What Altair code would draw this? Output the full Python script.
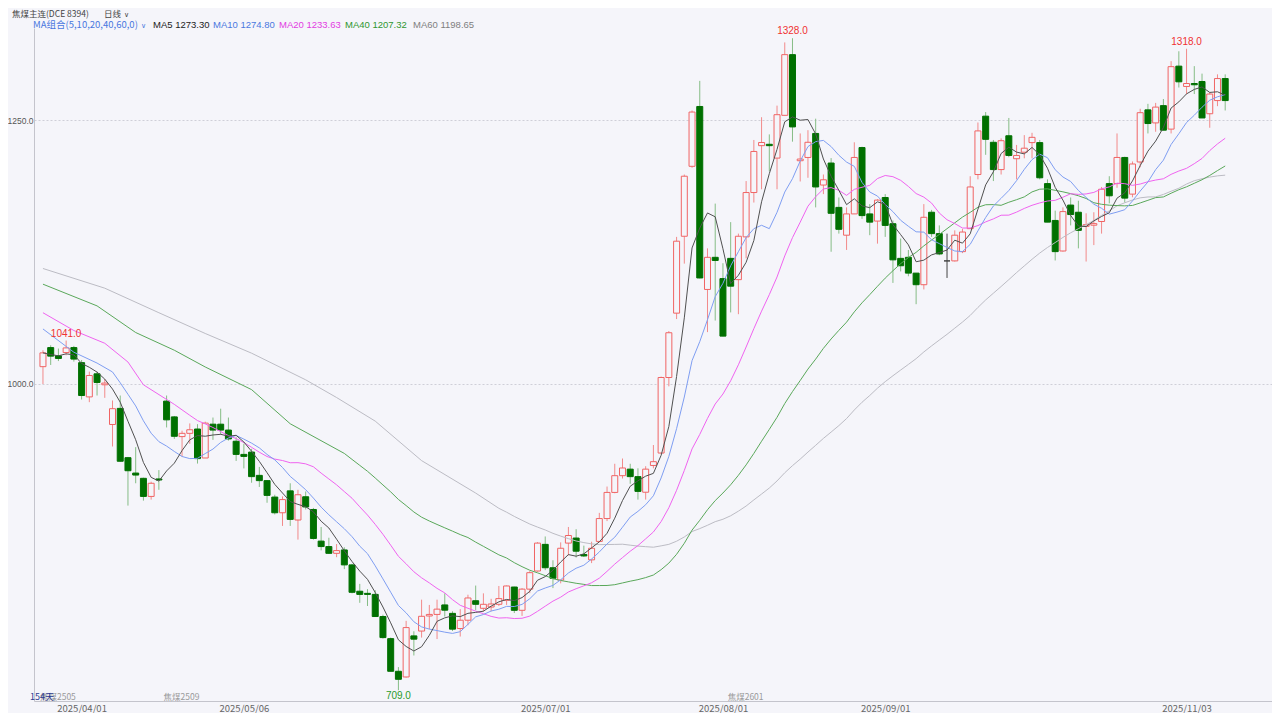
import altair as alt
import pandas as pd

# ---------------- data ----------------
opens = [1016.2, 1034.3, 1026.5, 1029.6, 1034.3, 1020.0, 987.5, 1009.4, 999.0, 961.3,
         976.6, 929.8, 915.2, 910.2, 893.0, 909.6, 983.5, 968.5, 949.8, 952.9,
         957.0, 929.5, 961.6, 961.6, 956.0, 945.4, 932.9, 935.1, 913.0, 908.0,
         892.4, 877.5, 898.3, 870.6, 892.7, 880.6, 850.6, 845.4, 839.0, 842.2,
         828.0, 803.0, 801.0, 800.0, 779.0, 758.0, 727.0, 721.6, 760.6, 765.2,
         779.5, 781.0, 790.0, 782.0, 767.6, 775.5, 794.0, 786.8, 788.0, 790.6,
         794.4, 807.0, 784.9, 805.0, 822.2, 847.5, 825.3, 813.6, 848.7, 853.5,
         837.9, 832.8, 850.3, 872.0, 896.8, 912.7, 918.9, 911.8, 897.0, 922.4,
         934.2, 1005.9, 1067.0, 1140.0, 1206.4, 1263.2, 1089.5, 1120.0, 1099.8, 1119.0,
         1098.8, 1139.4, 1181.5, 1226.0, 1227.3, 1214.2, 1254.8, 1312.4, 1211.7, 1214.8,
         1237.6, 1188.6, 1209.5, 1167.4, 1141.0, 1161.2, 1224.2, 1161.2, 1154.4, 1176.8,
         1151.9, 1119.0, 1120.0, 1105.0, 1094.0, 1162.8, 1142.5, 1116.6, 1116.6, 1125.4,
         1147.2, 1198.6, 1254.0, 1229.2, 1203.3, 1235.4, 1213.6, 1219.8, 1228.9, 1228.9,
         1190.0, 1155.0, 1126.0, 1169.6, 1162.8, 1149.4, 1150.5, 1154.0, 1190.0, 1190.0,
         1214.8, 1180.0, 1210.5, 1260.0, 1247.6, 1264.0, 1241.7, 1301.5, 1282.2, 1285.0,
         1286.9, 1256.3, 1268.8, 1289.7]

highs = [1031.8, 1036.5, 1033.4, 1041.0, 1035.9, 1022.5, 1011.5, 1011.5, 1004.4, 984.1,
         988.8, 930.5, 939.8, 910.8, 907.0, 918.0, 988.8, 969.4, 955.4, 962.3,
         961.6, 964.0, 967.9, 976.3, 967.9, 949.2, 943.0, 938.2, 921.0, 908.6,
         894.6, 893.0, 905.5, 899.3, 897.7, 882.1, 864.0, 853.8, 847.8, 844.7,
         829.0, 810.0, 805.0, 804.0, 780.7, 759.0, 731.0, 774.9, 765.0, 795.0,
         790.0, 795.0, 801.0, 784.0, 786.0, 799.7, 808.4, 801.0, 795.8, 808.0,
         808.4, 807.3, 806.0, 822.1, 849.6, 855.0, 832.4, 849.4, 864.0, 861.9,
         846.3, 850.0, 877.4, 902.4, 924.0, 929.0, 924.0, 919.7, 921.7, 941.8,
         1006.8, 1050.0, 1139.4, 1198.6, 1259.4, 1287.5, 1128.5, 1171.0, 1114.4, 1153.4,
         1142.5, 1192.4, 1231.4, 1253.0, 1236.7, 1264.0, 1324.0, 1328.0, 1237.6, 1240.7,
         1251.6, 1198.6, 1214.2, 1176.8, 1167.4, 1229.2, 1225.0, 1170.5, 1175.2, 1180.0,
         1155.0, 1137.8, 1127.0, 1105.0, 1170.5, 1165.0, 1150.3, 1142.5, 1145.6, 1147.0,
         1197.0, 1248.0, 1257.9, 1231.4, 1232.9, 1252.3, 1226.7, 1236.0, 1238.2, 1231.4,
         1194.0, 1164.3, 1167.4, 1176.8, 1173.7, 1161.8, 1162.8, 1186.8, 1197.0, 1237.6,
         1215.5, 1211.0, 1261.0, 1265.7, 1266.6, 1270.3, 1306.2, 1315.6, 1318.0, 1301.5,
         1294.4, 1276.6, 1293.7, 1293.7]

lows = [999.7, 1017.8, 1021.5, 1027.0, 1021.0, 985.0, 982.5, 988.8, 986.6, 940.4,
        926.0, 884.3, 905.5, 889.0, 890.0, 899.3, 958.5, 947.6, 930.8, 943.0,
        924.2, 929.5, 946.7, 951.7, 946.0, 926.7, 919.6, 906.0, 902.0, 887.0,
        875.9, 865.0, 865.0, 852.0, 880.6, 852.0, 841.8, 838.5, 835.3, 824.0,
        801.0, 792.0, 789.0, 779.0, 758.0, 727.0, 709.0, 721.0, 742.0, 759.0,
        767.0, 757.6, 779.0, 765.2, 760.0, 770.7, 785.0, 783.8, 783.9, 789.0,
        790.0, 782.3, 779.6, 801.2, 821.6, 823.0, 806.0, 810.5, 837.0, 835.0,
        835.5, 829.7, 849.4, 869.6, 896.0, 910.0, 905.0, 890.0, 890.0, 919.7,
        933.6, 997.5, 1061.4, 1114.0, 1205.0, 1100.0, 1049.0, 1060.0, 1045.0, 1067.7,
        1066.0, 1119.0, 1172.0, 1184.6, 1201.7, 1184.6, 1254.8, 1229.8, 1192.0, 1195.5,
        1167.4, 1180.0, 1125.3, 1142.5, 1127.0, 1161.2, 1156.5, 1141.0, 1133.0, 1139.4,
        1095.7, 1106.6, 1102.0, 1075.5, 1089.5, 1139.4, 1122.0, 1100.4, 1116.0, 1124.0,
        1147.2, 1194.0, 1217.3, 1192.4, 1198.6, 1215.0, 1194.0, 1214.0, 1214.0, 1194.0,
        1153.4, 1117.0, 1125.4, 1150.3, 1128.5, 1116.0, 1131.6, 1142.5, 1171.2, 1186.0,
        1172.0, 1177.0, 1205.5, 1237.6, 1239.2, 1240.7, 1237.6, 1281.2, 1275.0, 1275.0,
        1252.3, 1243.0, 1263.5, 1259.4]

closes = [1029.3, 1026.2, 1024.0, 1034.0, 1023.4, 988.8, 1007.8, 1001.2, 1000.6, 976.3,
          926.4, 917.4, 913.3, 893.0, 905.5, 908.6, 965.7, 950.1, 952.9, 956.3,
          928.9, 962.6, 956.0, 956.0, 947.6, 932.9, 931.0, 911.8, 908.0, 894.0,
          877.5, 890.0, 871.2, 894.6, 883.0, 853.1, 845.4, 839.0, 841.6, 828.0,
          802.0, 800.0, 800.0, 779.0, 759.0, 727.0, 719.4, 768.5, 757.5, 779.2,
          781.0, 786.0, 785.0, 767.0, 775.5, 796.6, 790.6, 790.6, 790.9, 796.0,
          808.0, 784.9, 805.0, 820.6, 848.7, 825.3, 815.3, 843.8, 855.9, 841.0,
          836.5, 843.8, 872.0, 896.8, 912.7, 920.0, 911.8, 897.8, 918.9, 926.0,
          1005.9, 1048.4, 1135.3, 1197.0, 1257.9, 1100.4, 1120.0, 1117.0, 1045.2, 1092.6,
          1140.0, 1181.5, 1220.5, 1229.0, 1226.0, 1255.4, 1312.4, 1243.8, 1213.3, 1229.2,
          1186.8, 1193.6, 1161.8, 1146.6, 1161.2, 1214.8, 1159.6, 1153.4, 1174.3, 1150.3,
          1117.6, 1112.0, 1105.0, 1094.0, 1158.0, 1142.5, 1123.2, 1116.6, 1141.0, 1144.0,
          1186.8, 1240.0, 1232.0, 1203.3, 1230.7, 1216.7, 1216.7, 1223.6, 1233.9, 1195.5,
          1153.4, 1125.4, 1163.4, 1160.6, 1145.6, 1151.0, 1152.0, 1184.6, 1178.4, 1214.8,
          1176.2, 1208.6, 1257.3, 1247.0, 1262.6, 1240.7, 1301.0, 1286.6, 1285.0, 1283.8,
          1252.3, 1275.0, 1289.7, 1268.8]

tick_idx = [5, 26, 65, 88, 109, 148]
tick_labels = ["2025/04/01", "2025/05/06", "2025/07/01", "2025/08/01", "2025/09/01", "2025/11/03"]
price_ticks = [1000, 1250]

hi_label_idx = [3, 97, 148]
lo_label_idx = [46]

contract_idx = [0, 16, 89]
contract_names = ["焦煤2505", "焦煤2509", "焦煤2601"]

ma_names = ["MA5", "MA10", "MA20", "MA40", "MA60"]
ma_periods = [5, 10, 20, 40, 60]
ma_last = ["1273.30", "1274.80", "1233.63", "1207.32", "1198.65"]

# moving-average values before a full window exists
ma10_early_idx = [0, 4, 7]
ma10_early_val = [1052.0, 1029.9, 1019.6]
ma20_early_idx = [0, 4, 8, 11, 13, 17]
ma20_early_val = [1067.4, 1050.5, 1038.4, 1020.6, 999.0, 980.4]
ma40_early_idx = [0, 7, 12, 17, 21, 27, 32]
ma40_early_val = [1094.5, 1073.9, 1048.6, 1031.8, 1015.9, 994.4, 962.0]
ma60_early_idx = [0, 8, 15, 21, 27, 34, 38, 43, 49, 56]
ma60_early_val = [1109.4, 1090.7, 1067.4, 1047.7, 1029.0, 1003.7, 986.9, 964.5, 927.0, 896.2]

# ---------------- tables ----------------
n = len(closes)
df = pd.DataFrame({"idx": list(range(n)), "open": opens, "high": highs, "low": lows, "close": closes})
df["dir"] = ["up" if c > o else ("down" if c < o else "flat") for o, c in zip(opens, closes)]

early = {
    "MA5": ([], []),
    "MA10": (ma10_early_idx, ma10_early_val),
    "MA20": (ma20_early_idx, ma20_early_val),
    "MA40": (ma40_early_idx, ma40_early_val),
    "MA60": (ma60_early_idx, ma60_early_val),
}
cs = pd.Series(closes)
rows = []
for name, period in zip(ma_names, ma_periods):
    ei, ev = early[name]
    for i, v in zip(ei, ev):
        rows.append({"idx": i, "val": v, "ma": name})
    if name == "MA5":
        roll = cs.rolling(period, min_periods=1).mean()
        start = 0
    else:
        roll = cs.rolling(period).mean()
        start = period - 1
    for i in range(start, n):
        rows.append({"idx": i, "val": float(roll[i]), "ma": name})
ma_df = pd.DataFrame(rows)

contract_df = pd.DataFrame({"idx": contract_idx, "name": contract_names})

# ---------------- style ----------------
BG = "#f5f5fa"
UP, UP_WICK = "#f06464", "#f28a8a"
DOWN, DOWN_WICK = "#007000", "#86bd86"
FLAT = "#444444"
ma_line_colors = ["#505050", "#7f9ef2", "#f064f0", "#5aa85a", "#bcbcc4"]
ma_text_colors = ["#222222", "#4a78e0", "#e23ce2", "#2f962f", "#808080"]
CJK = "Noto Sans CJK SC"
LAT = "Liberation Sans"

LEFT, TOP = 34, 28          # page position of the plot origin
W, H = 1238, 673

xs = alt.Scale(domain=[-0.513, 158.41], nice=False, zero=False)
ys = alt.Scale(domain=[698.8, 1337.7], nice=False, zero=False)

label_expr = " : ".join(f"datum.value == {i} ? '{l}'" for i, l in zip(tick_idx, tick_labels)) + " : ''"

x_axis = alt.Axis(values=tick_idx, labelExpr=label_expr, title=None, grid=False, ticks=False,
                  domainColor="#c4c4cc", labelColor="#666666", labelFont=CJK, labelFontSize=9.5,
                  labelPadding=2, labelFlush=False, labelOverlap=False)
y_axis = alt.Axis(values=price_ticks, format=".1f", title=None, ticks=False,
                  domainColor="#c4c4cc", labelColor="#555555", labelFont=LAT, labelFontSize=8.5,
                  labelPadding=1, grid=True, gridColor="#cfcfd8", gridDash=[2, 2], gridWidth=1)


def X(field="idx:Q"):
    return alt.X(field, scale=xs, axis=x_axis)


def Y(field):
    return alt.Y(field, scale=ys, axis=y_axis)


base = alt.Chart(df)

wicks = base.mark_rule(strokeWidth=1).encode(
    x=X(), y=Y("low:Q"), y2="high:Q",
    color=alt.Color("dir:N", scale=alt.Scale(domain=["up", "down", "flat"],
                                             range=[UP_WICK, DOWN_WICK, FLAT]), legend=None),
)

bodies = base.mark_bar(size=6, strokeWidth=1).encode(
    x=X(), y=Y("open:Q"), y2="close:Q",
    fill=alt.Fill("dir:N", scale=alt.Scale(domain=["up", "down", "flat"],
                                           range=[BG, DOWN, FLAT]), legend=None),
    stroke=alt.Stroke("dir:N", scale=alt.Scale(domain=["up", "down", "flat"],
                                               range=[UP, DOWN, FLAT]), legend=None),
)

ma_layers = []
for name, col in zip(ma_names[::-1], ma_line_colors[::-1]):
    ma_layers.append(
        alt.Chart(ma_df).transform_filter(alt.datum.ma == name)
        .mark_line(strokeWidth=1, color=col)
        .encode(x=X(), y=Y("val:Q"))
    )

hi_txt = base.transform_filter(alt.FieldOneOfPredicate(field="idx", oneOf=hi_label_idx)).mark_text(
    baseline="bottom", dy=-2, color="#f03232", font=LAT, fontSize=10
).encode(x=X(), y=Y("high:Q"), text=alt.Text("high:Q", format=".1f"))

lo_txt = base.transform_filter(alt.FieldOneOfPredicate(field="idx", oneOf=lo_label_idx)).mark_text(
    baseline="top", dy=1, color="#2a9a2a", font=LAT, fontSize=10
).encode(x=X(), y=Y("low:Q"), text=alt.Text("low:Q", format=".1f"))

contract_txt = alt.Chart(contract_df).mark_text(
    align="left", baseline="middle", dx=-3, color="#9a9a9a", font=CJK, fontSize=8.5
).encode(x=X(), y=alt.value(697 - TOP), text="name:N")


def label(txt, px, py, color, size, font, baseline="middle"):
    return alt.Chart(alt.Data(values=[{"t": txt}])).mark_text(
        align="left", baseline=baseline, color=color, fontSize=size, font=font
    ).encode(x=alt.value(px - LEFT), y=alt.value(py - TOP), text="t:N")


header = [
    label("焦煤主连(DCE 8394)", 12, 10, "#444444", 8.5, CJK, "top"),
    label("日线", 104, 10, "#444444", 8.5, CJK, "top"),
    label("∨", 124, 11, "#444444", 7, "DejaVu Sans", "top"),
    label("MA组合(5,10,20,40,60,0)", 33, 24.5, "#4a78e0", 9.5, CJK),
    label("∨", 141, 25.5, "#4a78e0", 7, "DejaVu Sans"),
    label("154天", 30, 697, "#2b3990", 9, CJK),
]
ma_x = [153, 213, 279, 345, 413]
for name, val, col, px in zip(ma_names, ma_last, ma_text_colors, ma_x):
    header.append(label(f"{name} {val}", px, 24.5, col, 9.5, LAT))

chart = alt.layer(
    wicks, bodies, *ma_layers, hi_txt, lo_txt, contract_txt, *header
).properties(
    width=W, height=H,
    padding={"left": LEFT - 8, "top": TOP - 8, "right": 0, "bottom": 12},
    autosize=alt.AutoSizeParams(type="none"),
    background=BG,
).configure_view(stroke=None, fill=BG)

chart.save("out.html", embed_options={"renderer": "svg", "actions": False})
